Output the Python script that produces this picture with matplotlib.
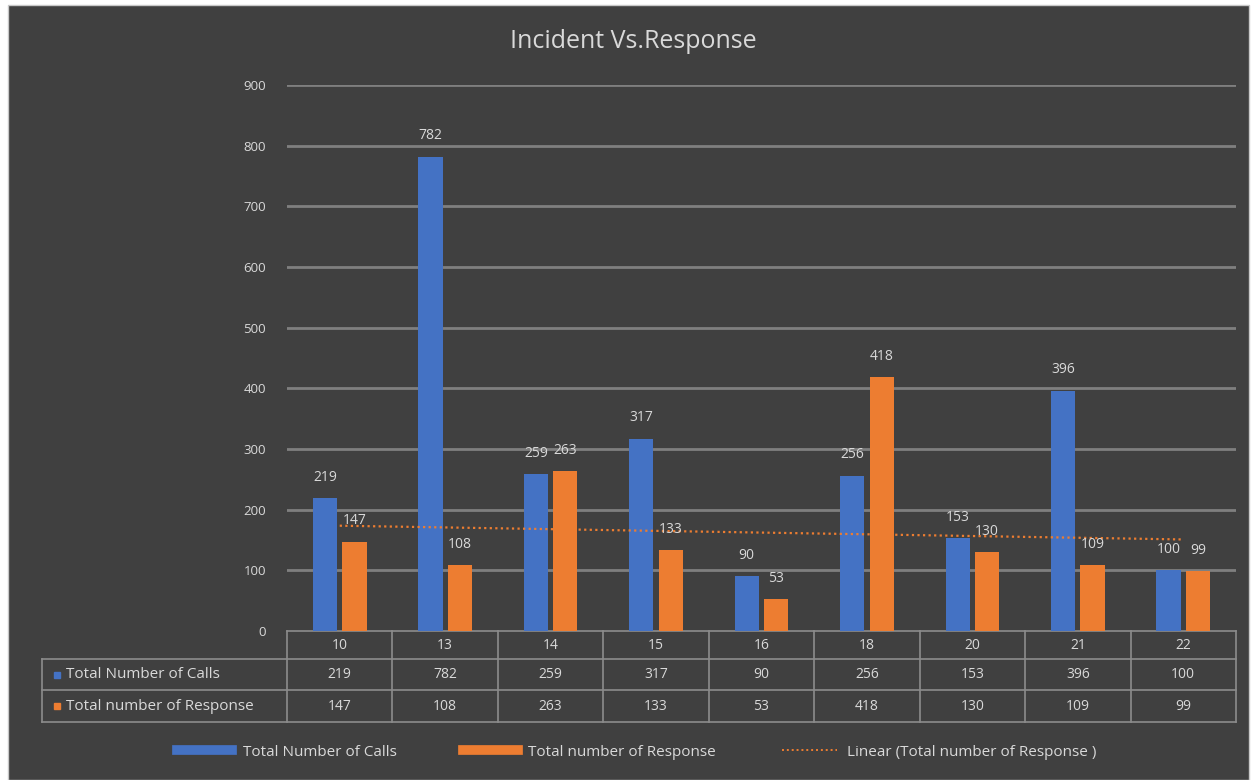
import matplotlib.pyplot as plt
import numpy as np
from matplotlib.patches import Rectangle
from matplotlib.lines import Line2D
import matplotlib.transforms as mtransforms

plt.rcParams["font.family"] = ["Open Sans", "DejaVu Sans"]

BG = "#404040"
BLUE = "#4472C4"
ORANGE = "#ED7D31"
TEXT = "#D9D9D9"
GRID = "#7F7F7F"

categories = ["10", "13", "14", "15", "16", "18", "20", "21", "22"]
calls = [219, 782, 259, 317, 90, 256, 153, 396, 100]
responses = [147, 108, 263, 133, 53, 418, 130, 109, 99]
series_names = ["Total Number of Calls", "Total number of Response"]

fig = plt.figure(figsize=(12.54, 7.8), dpi=100, facecolor="white")
# dark chart area inside the spreadsheet frame
fig.patches.append(Rectangle((8 / 1254, 0), 1241 / 1254, 775 / 780,
                             transform=fig.transFigure, facecolor=BG,
                             edgecolor="#C8C8C8", linewidth=1, zorder=-10))

ax = fig.add_axes([287 / 1254, 149 / 780, 949 / 1254, 546 / 780])
ax.set_facecolor("none")

x = np.arange(len(categories))
w = 0.23
off = 0.14
b1 = ax.bar(x - off, calls, w, color=BLUE, zorder=3)
b2 = ax.bar(x + off, responses, w, color=ORANGE, zorder=3)

for bars, vals in ((b1, calls), (b2, responses)):
    for rect, v in zip(bars, vals):
        ax.annotate(str(v), (rect.get_x() + rect.get_width() / 2, v),
                    xytext=(0, 15), textcoords="offset points",
                    ha="center", va="center", color=TEXT, fontsize=10, zorder=5)

# linear trend of responses
coef = np.polyfit(x, responses, 1)
ax.plot(x, np.polyval(coef, x), color=ORANGE, linestyle=(0, (1, 1.5)),
        linewidth=1.6, zorder=4)

ax.set_xlim(-0.5, len(categories) - 0.5)
ax.set_ylim(0, 900)
ax.set_yticks(range(0, 1000, 100))
ax.set_xticks([])
ax.tick_params(axis="y", length=0, pad=15, labelsize=9.5, labelcolor=TEXT)
for s in ax.spines.values():
    s.set_visible(False)
for yv in range(100, 1000, 100):
    ax.axhline(yv, color=GRID, linewidth=2, zorder=1)

fig.text(633 / 1254, 738 / 780, "Incident Vs.Response", color=TEXT, fontsize=18,
         ha="center", va="center")

# data table under the plot
tr = mtransforms.blended_transform_factory(ax.transData, ax.transAxes)
rows = [0, -0.052, -0.108, -0.167]
left = -0.5 - 245 / 105.4
right = len(categories) - 0.5
lkw = dict(color="#8C8C8C", linewidth=1.2, transform=tr, clip_on=False, zorder=2)
ax.plot([-0.5, right], [rows[0]] * 2, **lkw)
for r in rows[1:]:
    ax.plot([left, right], [r, r], **lkw)
for b in np.arange(len(categories) + 1) - 0.5:
    ax.plot([b, b], [rows[0], rows[-1]], **lkw)
ax.plot([left, left], [rows[1], rows[-1]], **lkw)

for i, c in enumerate(categories):
    ax.text(i, (rows[0] + rows[1]) / 2, c, transform=tr, ha="center", va="center",
            color=TEXT, fontsize=10)
for ri, (vals, name, col) in enumerate(((calls, series_names[0], BLUE),
                                        (responses, series_names[1], ORANGE))):
    yc = (rows[ri + 1] + rows[ri + 2]) / 2
    for i, v in enumerate(vals):
        ax.text(i, yc, str(v), transform=tr, ha="center", va="center",
                color=TEXT, fontsize=10)
    ax.plot([left + 0.14], [yc], marker="s", markersize=5, color=col,
            transform=tr, clip_on=False, zorder=3)
    ax.text(left + 0.23, yc, name, transform=tr, ha="left", va="center",
            color=TEXT, fontsize=11)

handles = [Line2D([], [], color=BLUE, linewidth=7),
           Line2D([], [], color=ORANGE, linewidth=7),
           Line2D([], [], color=ORANGE, linewidth=1.4, linestyle=(0, (1, 1.5)))]
leg = fig.legend(handles, series_names + ["Linear (Total number of Response )"],
                 loc="center", bbox_to_anchor=(637 / 1254, 28 / 780), ncol=3,
                 frameon=False, fontsize=11, handlelength=3.6, columnspacing=4.3,
                 handletextpad=0.7)
for t in leg.get_texts():
    t.set_color(TEXT)

fig.savefig("out.png", dpi=100, facecolor=fig.get_facecolor())
